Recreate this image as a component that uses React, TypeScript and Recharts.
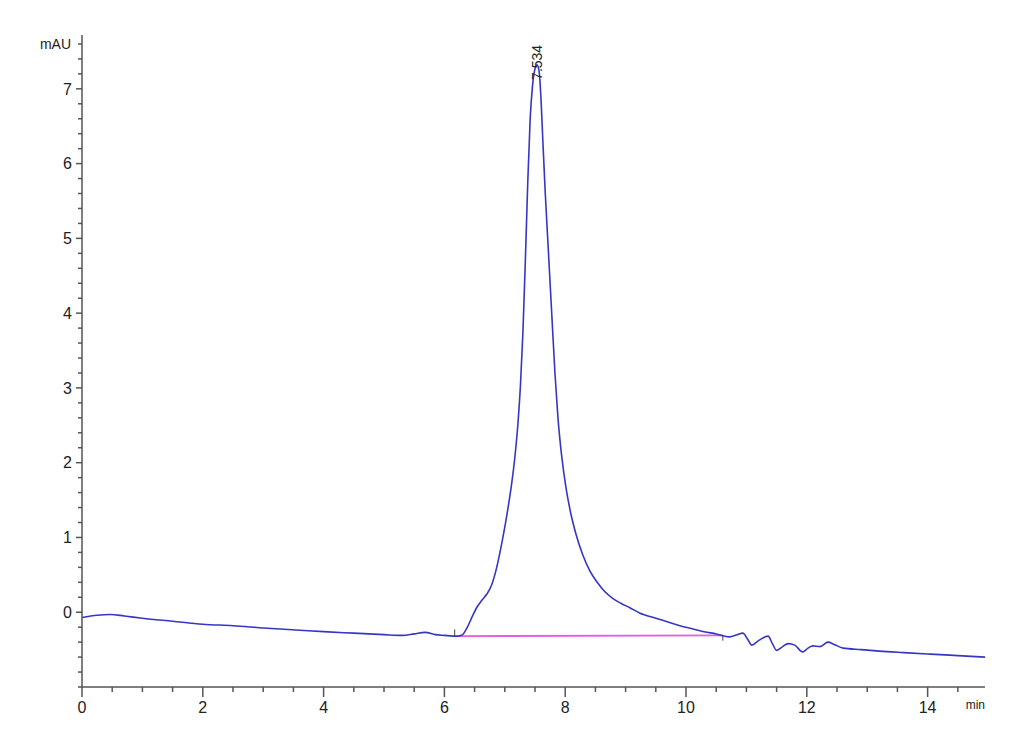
import { LineChart, Line, XAxis, YAxis, ReferenceLine, ReferenceDot } from 'recharts';

// retention time (min) and absorbance (mAU)
const times = [
  0, 0.25, 0.47, 0.7, 1.0, 1.5, 2.0, 2.5, 3.0, 3.6, 4.0, 4.5, 5.0, 5.3, 5.5, 5.68, 5.85, 6.0,
  6.22, 6.3, 6.38, 6.46, 6.54, 6.62, 6.7, 6.78, 6.86, 6.92, 6.98, 7.04, 7.11, 7.17, 7.22, 7.26,
  7.3, 7.34, 7.38, 7.42, 7.46, 7.5, 7.534, 7.57, 7.6, 7.63, 7.67, 7.72, 7.78, 7.83, 7.88, 7.94,
  8.01, 8.09, 8.18, 8.29, 8.41, 8.53, 8.65, 8.78, 8.92, 9.07, 9.23, 9.5, 9.7, 9.9, 10.1, 10.3,
  10.5, 10.72, 10.85, 10.94, 11.02, 11.09, 11.2, 11.36, 11.43, 11.5, 11.6, 11.69, 11.8, 11.93,
  12.02, 12.1, 12.22, 12.35, 12.45, 12.6, 12.9, 13.2, 13.6, 14.04, 14.5, 14.95,
];
const signal = [
  -0.07, -0.04, -0.03, -0.05, -0.08, -0.12, -0.16, -0.18, -0.21, -0.24, -0.26, -0.28, -0.3, -0.31, -0.29, -0.27, -0.3, -0.31,
  -0.32, -0.3, -0.2, -0.06, 0.07, 0.16, 0.24, 0.36, 0.58, 0.8, 1.05, 1.33, 1.7, 2.1, 2.55, 3.05,
  3.75, 4.7, 5.75, 6.6, 7.05, 7.27, 7.32, 7.22, 6.85, 6.3, 5.6, 4.85, 3.95, 3.2, 2.6, 2.1,
  1.68, 1.33, 1.04, 0.77, 0.55, 0.4, 0.28, 0.19, 0.12, 0.06, -0.01, -0.08, -0.13, -0.18, -0.22, -0.26,
  -0.29, -0.33, -0.3, -0.28, -0.36, -0.44, -0.38, -0.32, -0.42, -0.51, -0.46, -0.42, -0.44, -0.53,
  -0.48, -0.45, -0.46, -0.4, -0.43, -0.48, -0.5, -0.52, -0.54, -0.56, -0.58, -0.6,
];

// integration baseline and its start / end markers
const baselineX = [6.22, 10.61];
const baselineY = [-0.32, -0.31];
const startMarkY = [-0.32, -0.23];
const endMarkY = [-0.31, -0.38];

const peakTime = 7.534;
const peakHeight = 7.32;
const peakLabel = '7.534';

const yMajor = [0, 1, 2, 3, 4, 5, 6, 7];
const xMajor = [0, 2, 4, 6, 8, 10, 12, 14];
const yUnitTick = 7.6;
const xEnd = 14.95;

const yTicks: number[] = [];
for (let i = -5; i <= 38; i++) yTicks.push(Math.round(i * 20) / 100);
const xTicks: number[] = [];
for (let i = 0; i <= 29; i++) xTicks.push(i / 2);
xTicks.push(xEnd);

const data = times.map((t, i) => ({ t, v: signal[i] }));

const FONT = '"Liberation Sans", Arial, sans-serif';
const AXIS = '#555';

const isMajor = (v: number, list: number[]) => list.some(m => Math.abs(m - v) < 1e-6);

function YTick(props: any) {
  const { x, y, payload } = props;
  const v = payload.value;
  const major = isMajor(v, yMajor);
  const unit = Math.abs(v - yUnitTick) < 1e-6;
  return (
    <g>
      <line x1={x - (major ? 6 : 4)} x2={x} y1={y} y2={y} stroke={AXIS} strokeWidth={1.5} />
      {major && (
        <text x={x - 10} y={y} dy="0.36em" textAnchor="end" fontSize={16} fontFamily={FONT} fill="#222">{v}</text>
      )}
      {unit && (
        <text x={x - 11} y={y} dy="0.36em" textAnchor="end" fontSize={14} fontFamily={FONT} fill="#222">mAU</text>
      )}
    </g>
  );
}

function XTick(props: any) {
  const { x, y, payload } = props;
  const v = payload.value;
  if (Math.abs(v - xEnd) < 1e-6) {
    return <text x={x} y={y + 22} textAnchor="end" fontSize={12} fontFamily={FONT} fill="#222">min</text>;
  }
  const major = isMajor(v, xMajor);
  return (
    <g>
      <line x1={x} x2={x} y1={y} y2={y + (major ? 10 : 5)} stroke={AXIS} strokeWidth={1.5} />
      {major && (
        <text x={x} y={y + 26} textAnchor="middle" fontSize={16} fontFamily={FONT} fill="#222">{v}</text>
      )}
    </g>
  );
}

function PeakLabel(props: any) {
  const { cx, cy } = props;
  const px = cx + 5;
  const py = cy + 15;
  return (
    <text x={px} y={py} transform={`rotate(-90, ${px}, ${py})`} fontSize={14} fontFamily={FONT} fill="#222">{peakLabel}</text>
  );
}

export default function App() {
  return (
    <div style={{ position: 'absolute', left: 0, top: 0, background: '#fff' }}>
      <LineChart width={1030} height={720} data={data} margin={{ top: 35, right: 45, left: 0, bottom: 8 }}>
        <XAxis
          dataKey="t"
          type="number"
          domain={[0, xEnd]}
          ticks={xTicks}
          interval={0}
          allowDataOverflow
          height={25}
          tickSize={0}
          tickMargin={0}
          tick={<XTick />}
          stroke={AXIS}
          strokeWidth={1.5}
        />
        <YAxis
          type="number"
          domain={[-1, 7.72]}
          ticks={yTicks}
          interval={0}
          allowDataOverflow
          width={82}
          tickSize={0}
          tickMargin={0}
          tick={<YTick />}
          stroke={AXIS}
          strokeWidth={1.5}
        />
        <ReferenceLine
          segment={[{ x: baselineX[0], y: baselineY[0] }, { x: baselineX[1], y: baselineY[1] }]}
          stroke="#e65ce6"
          strokeWidth={1.8}
        />
        <ReferenceLine
          segment={[{ x: baselineX[0] - 0.05, y: startMarkY[0] }, { x: baselineX[0] - 0.05, y: startMarkY[1] }]}
          stroke="#444"
          strokeWidth={1}
        />
        <ReferenceLine
          segment={[{ x: baselineX[1], y: endMarkY[0] }, { x: baselineX[1], y: endMarkY[1] }]}
          stroke="#444"
          strokeWidth={1}
        />
        <Line
          type="monotone"
          dataKey="v"
          stroke="#3636c4"
          strokeWidth={1.6}
          dot={false}
          isAnimationActive={false}
        />
        <ReferenceDot x={peakTime} y={peakHeight} r={0} fill="none" stroke="none" shape={<PeakLabel />} />
      </LineChart>
    </div>
  );
}
